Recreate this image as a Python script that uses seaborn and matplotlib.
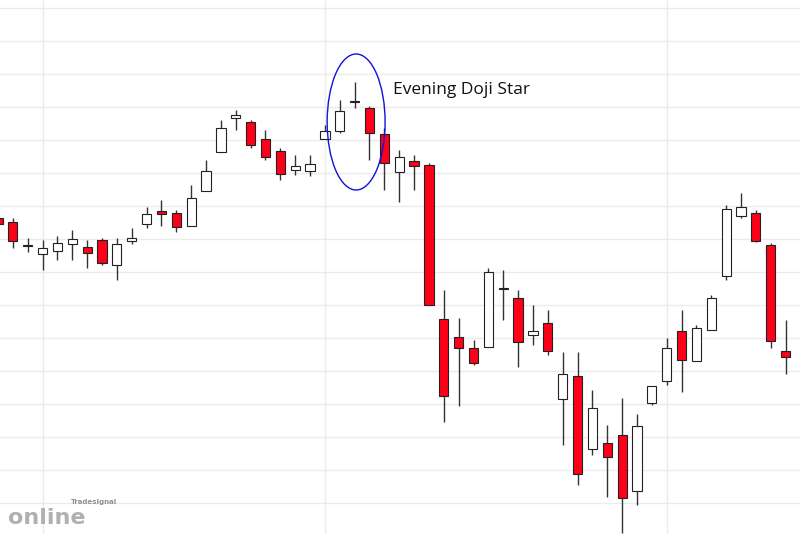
import matplotlib
matplotlib.use("Agg")
import matplotlib.pyplot as plt
from matplotlib.patches import Ellipse
import seaborn as sns
import numpy as np

# candle data (price units; higher = up)
opens = [316, 312, 289, 280, 283, 290, 287, 294, 269, 293, 310, 323, 321, 308, 343, 382, 416, 412, 395, 383,
         364, 363, 395, 403, 432, 426, 400, 362, 373, 369, 215, 197, 186, 187, 245, 236, 199, 211, 135, 158,
         85, 91, 99, 43, 131, 153, 203, 173, 204, 258, 318, 321, 289, 183]
closes = [310, 293, 288, 286, 291, 295, 281, 271, 290, 296, 320, 320, 307, 336, 363, 406, 419, 389, 377, 360,
          368, 370, 403, 423, 433, 401, 371, 377, 368, 229, 138, 186, 171, 262, 246, 192, 203, 183, 160, 60,
          126, 77, 36, 108, 148, 186, 174, 206, 236, 325, 327, 293, 193, 177]
highs = [320, 316, 296, 294, 298, 304, 294, 296, 296, 306, 327, 334, 324, 349, 374, 414, 424, 414, 404, 386,
         379, 379, 409, 434, 452, 428, 406, 384, 379, 371, 244, 216, 194, 266, 264, 244, 229, 224, 182, 182,
         144, 109, 136, 120, 148, 196, 224, 209, 239, 329, 341, 324, 291, 214]
lows = [306, 286, 282, 264, 274, 274, 266, 269, 254, 290, 306, 308, 302, 308, 343, 382, 404, 386, 374, 354,
        359, 358, 395, 401, 426, 374, 344, 332, 344, 229, 112, 128, 169, 187, 214, 167, 189, 179, 89, 49,
        79, 37, 1, 29, 129, 149, 142, 173, 204, 254, 316, 292, 186, 160]
grid_idx = [3, 22, 45]

sns.set_style("white")
fig = plt.figure(figsize=(8, 5.34), dpi=100)
ax = fig.add_axes([0, 0, 1, 1])

x = np.arange(len(opens))
o, c, h, l = map(np.array, (opens, closes, highs, lows))
up = c >= o
ax.vlines(x, l, h, color="#333333", lw=1, zorder=2)
bottom = np.minimum(o, c)
height = np.maximum(np.abs(c - o), 1.2)
colors = np.where(up, "white", "#ff0019")
ax.bar(x, height, bottom=bottom, width=0.62, color=colors, edgecolor="#222222", lw=0.8, zorder=3)

for yv in np.arange(31, 534, 33):
    ax.axhline(yv, color="#ebebeb", lw=1, zorder=0)
for xi in grid_idx:
    ax.axvline(xi, color="#ebebeb", lw=1, zorder=0)

ax.add_patch(Ellipse((24.1, 412), 3.9, 136, fill=False, edgecolor="#1010e0", lw=1, zorder=4))
ax.text(26.6, 444, "Evening Doji Star", fontsize=12.5, va="center", ha="left", color="#111111",
        family="Open Sans")

ax.text(0.01, 0.012, "online", transform=ax.transAxes, fontsize=16, fontweight="bold",
        color="#b0b0b0", ha="left", va="bottom")
ax.text(0.088, 0.055, "Tradesignal", transform=ax.transAxes, fontsize=5, fontweight="bold",
        color="#909090", ha="left", va="bottom")

ax.set_xlim(0.135, 53.97)
ax.set_ylim(0, 534)
ax.set_xticks([])
ax.set_yticks([])
for s in ax.spines.values():
    s.set_visible(False)

fig.savefig("out.png", dpi=100)
